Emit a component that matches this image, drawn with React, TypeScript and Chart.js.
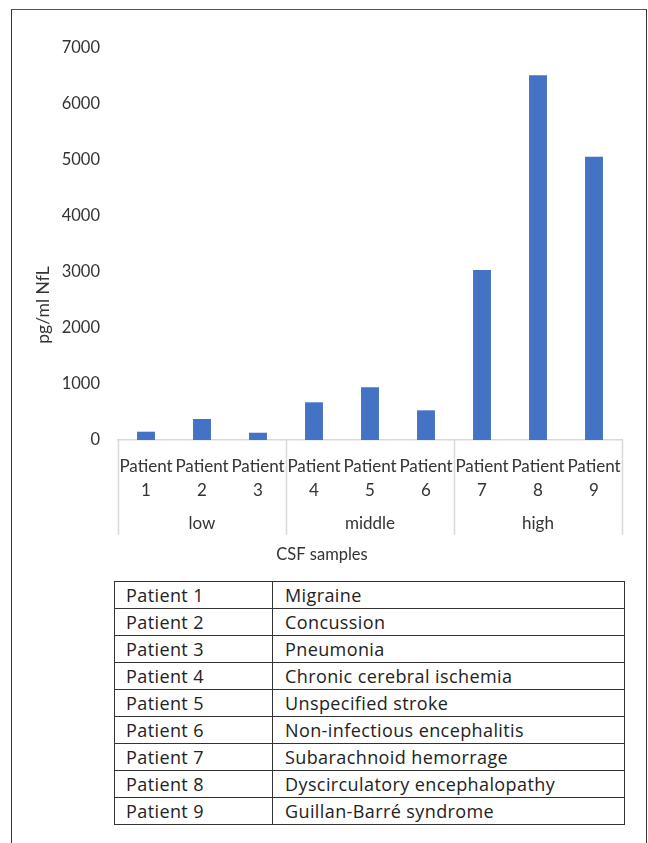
import React, { useEffect, useRef } from "react";
import { Chart, registerables } from "chart.js";

Chart.register(...registerables);

const patients = ["Patient 1", "Patient 2", "Patient 3", "Patient 4", "Patient 5", "Patient 6", "Patient 7", "Patient 8", "Patient 9"];
const nflValues = [148, 375, 130, 673, 940, 530, 3035, 6512, 5060];
const groups = ["low", "middle", "high"];
const groupSizes = [3, 3, 3];
const yMax = 7000;
const yStep = 1000;
const yTitle = "pg/ml NfL";
const xTitle = "CSF samples";
const diagnoses = [
  "Migraine",
  "Concussion",
  "Pneumonia",
  "Chronic cerebral ischemia",
  "Unspecified stroke",
  "Non-infectious encephalitis",
  "Subarachnoid hemorrage",
  "Dyscirculatory encephalopathy",
  "Guillan-Barré syndrome",
];

const FONT = "Lato, 'Noto Sans', sans-serif";

const groupPlugin = {
  id: "groupPlugin",
  afterDraw(chart: any) {
    const xs = chart.scales.x;
    const ys = chart.scales.y;
    const ctx = chart.ctx;
    const half = (xs.getPixelForValue(1) - xs.getPixelForValue(0)) / 2;
    const top = xs.top;
    const bottom = xs.top + 95;
    ctx.save();
    ctx.strokeStyle = "#d9d9d9";
    ctx.lineWidth = 1.5;
    let idx = 0;
    const bounds: number[] = [];
    groupSizes.forEach((n) => {
      bounds.push(xs.getPixelForValue(idx) - half);
      idx += n;
    });
    bounds.push(xs.getPixelForValue(idx - 1) + half);
    bounds.forEach((bx) => {
      ctx.beginPath();
      ctx.moveTo(Math.round(bx) + 0.5, top);
      ctx.lineTo(Math.round(bx) + 0.5, bottom);
      ctx.stroke();
    });
    ctx.fillStyle = "#333";
    ctx.font = `17px ${FONT}`;
    ctx.textAlign = "center";
    ctx.textBaseline = "middle";
    groups.forEach((g, i) => {
      ctx.fillText(g, (bounds[i] + bounds[i + 1]) / 2, top + 84);
    });
    // x-axis title, centred on the whole chart as in the Excel original
    ctx.font = `16.5px ${FONT}`;
    ctx.fillText(xTitle, chart.width / 2 - 2, bottom + 20);
    // y-axis title, centred lower as in the Excel original
    ctx.translate(ys.left + 43, ys.top + 257);
    ctx.rotate(-Math.PI / 2);
    ctx.font = `17.5px ${FONT}`;
    ctx.fillText(yTitle, 0, 0);
    ctx.restore();
  },
};

function ChartBox() {
  const ref = useRef<HTMLCanvasElement | null>(null);
  useEffect(() => {
    if (!ref.current) return;
    const chart = new Chart(ref.current, {
      type: "bar",
      data: {
        labels: patients.map((p) => p.split(" ")),
        datasets: [
          {
            data: nflValues,
            backgroundColor: "#4472C4",
            borderWidth: 0,
            barPercentage: 0.32,
            categoryPercentage: 1,
          },
        ],
      },
      plugins: [groupPlugin],
      options: {
        animation: false,
        responsive: false,
        maintainAspectRatio: false,
        layout: { padding: { left: 0, top: 48, right: 26, bottom: 0 } },
        plugins: { legend: { display: false }, tooltip: { enabled: false } },
        scales: {
          x: {
            afterFit: (s: any) => {
              s.height = 130;
            },
            grid: { display: false, drawOnChartArea: false },
            border: { display: true, color: "#d9d9d9", width: 1.5 },
            ticks: {
              color: "#333",
              font: { family: FONT, size: 17, lineHeight: 1.38 },
              padding: 7,
              maxRotation: 0,
              autoSkip: false,
            },
            title: { display: false },
          },
          y: {
            min: 0,
            max: yMax,
            afterFit: (s: any) => {
              s.width = 118;
            },
            grid: { display: false },
            border: { display: false },
            ticks: {
              stepSize: yStep,
              color: "#333",
              font: { family: FONT, size: 16.5 },
              padding: 10,
              callback: (v: any) => String(v),
            },
            title: { display: false },
          },
        },
      },
    });
    return () => chart.destroy();
  }, []);
  return <canvas ref={ref} width={648} height={570} style={{ position: "absolute", left: 0, top: 0, width: 648, height: 570 }} />;
}

export default function App() {
  const cellBase: React.CSSProperties = {
    border: "1px solid #333",
    padding: "0 0 0 11px",
    height: 26,
    lineHeight: "26px",
    verticalAlign: "bottom",
    whiteSpace: "nowrap",
  };
  return (
    <div style={{ position: "absolute", left: 0, top: 0, width: 648, height: 843, background: "#fff", overflow: "hidden" }}>
      <div
        style={{
          position: "absolute",
          left: 11,
          top: 9,
          width: 634,
          height: 850,
          borderLeft: "1.5px solid #333",
          borderTop: "1.5px solid #555",
          borderRight: "1.5px solid #333",
        }}
      />
      <ChartBox />
      <table
        style={{
          position: "absolute",
          left: 114,
          top: 581,
          width: 510,
          borderCollapse: "collapse",
          fontFamily: "'Open Sans', 'Noto Sans', sans-serif",
          fontSize: 18,
          letterSpacing: 0.4,
          color: "#222",
          tableLayout: "fixed",
        }}
      >
        <colgroup>
          <col style={{ width: 158 }} />
          <col style={{ width: 352 }} />
        </colgroup>
        <tbody>
          {patients.map((p, i) => (
            <tr key={p}>
              <td style={cellBase}>{p}</td>
              <td style={{ ...cellBase, paddingLeft: 12 }}>{diagnoses[i]}</td>
            </tr>
          ))}
        </tbody>
      </table>
    </div>
  );
}
